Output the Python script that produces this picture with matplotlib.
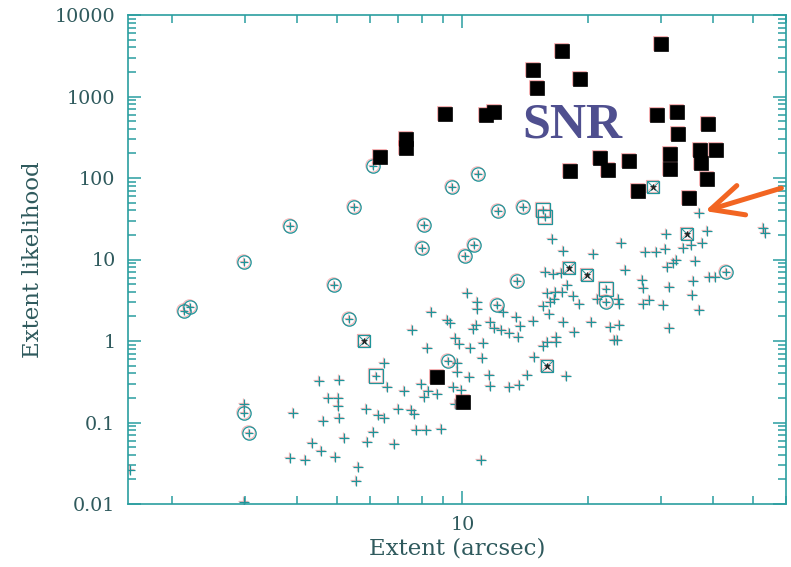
import matplotlib
matplotlib.use("Agg")
import matplotlib.pyplot as plt
from matplotlib import transforms
from matplotlib.ticker import FixedLocator, FixedFormatter, NullFormatter

# Supernova remnants (filled squares)
snr_extent = [17.4, 30.1, 14.8, 15.1, 19.2, 9.10, 11.4, 11.9, 7.33, 7.33,
              6.32, 29.4, 32.9, 39.0, 33.0, 31.6, 31.6, 37.3, 37.5, 40.8,
              38.8, 35.1, 21.4, 22.4, 25.1, 18.1, 26.4, 8.71, 10.06]
snr_like = [3600, 4400, 2110, 1270, 1640, 610, 593, 646, 301, 233,
            181, 593, 646, 460, 347, 197, 129, 221, 153, 221,
            97, 57, 176, 125, 162, 122, 69, 0.362, 0.179]

# Sources marked with a circle
circ_extent = [2.14, 2.21, 2.99, 3.86, 4.90, 5.35, 5.50, 6.08, 2.99, 3.06,
               8.01, 8.10, 9.46, 10.17, 10.69, 10.93, 12.20, 14.02, 13.56, 12.14,
               9.25, 22.19, 43.1]
circ_like = [2.33, 2.61, 9.32, 25.8, 4.87, 1.86, 44.1, 140, 0.131, 0.0743,
             13.84, 26.5, 77.5, 11.04, 15.06, 112, 39.4, 44.1, 5.45, 2.77,
             0.568, 3.01, 7.02]

# Sources marked with a square
sq_extent = [6.21, 15.65, 15.83, 22.19]
sq_like = [0.372, 40.5, 33.2, 4.35]

# Sources marked with a crossed square
sqx_extent = [5.81, 18.08, 19.97, 34.74, 28.78, 16.01]
sqx_like = [1.00, 7.87, 6.45, 20.56, 77.5, 0.494]

# All other detected sources
src_extent = [1.59, 2.98, 2.98, 3.92, 4.53, 5.06, 4.76, 5.03, 5.03, 4.63,
              5.06, 5.20, 4.34, 4.58, 3.86, 4.19, 4.95, 5.62, 5.56, 5.85,
              5.91, 6.11, 6.25, 6.49, 6.83, 6.49, 6.60, 7.02, 7.22, 7.54,
              7.63, 7.75, 8.19, 8.90, 7.58, 8.42, 9.20, 9.36, 8.24, 9.62,
              9.84, 9.73, 9.73, 7.97, 8.28, 8.71, 8.10, 9.51, 9.95, 9.62,
              10.28, 10.86, 10.86, 12.55, 13.48, 10.81, 10.63, 11.68, 11.94, 12.41,
              13.79, 12.97, 13.64, 14.81, 10.45, 11.23, 11.17, 14.90, 16.01, 15.65,
              16.83, 16.83, 10.39, 11.61, 11.68, 12.97, 13.71, 14.33, 17.78, 11.11,
              17.49, 20.42, 18.59, 16.46, 17.49, 20.64, 24.10, 24.64, 15.83, 16.55,
              17.30, 17.88, 16.01, 16.73, 17.40, 18.49, 19.11, 15.65, 16.27, 16.64,
              16.19, 21.11, 23.71, 23.84, 22.69, 23.84, 23.20, 23.59, 37.13, 30.93,
              38.81, 37.75, 35.52, 33.98, 30.76, 29.27, 27.54, 52.91, 53.50, 32.69,
              32.15, 36.32, 31.10, 39.24, 40.56, 35.92, 27.09, 27.24, 31.45, 35.72,
              28.16, 27.24, 30.42, 37.13, 31.45]
src_like = [0.0261, 0.0106, 0.169, 0.131, 0.323, 0.332, 0.200, 0.200, 0.159, 0.104,
            0.114, 0.0645, 0.0561, 0.0447, 0.0367, 0.0347, 0.0377, 0.0284, 0.0192, 0.146,
            0.0576, 0.0764, 0.124, 0.114, 0.0545, 0.537, 0.273, 0.146, 0.243, 0.142,
            0.127, 0.0809, 0.0809, 0.0832, 1.36, 2.27, 1.81, 1.66, 0.821, 1.09,
            0.919, 0.537, 0.416, 0.297, 0.243, 0.224, 0.206, 0.273, 0.251, 0.169,
            3.88, 3.01, 2.47, 2.27, 1.97, 1.57, 1.40, 1.71, 1.44, 1.36,
            1.53, 1.25, 1.12, 1.76, 0.821, 0.945, 0.619, 0.637, 0.972, 0.868,
            1.12, 0.972, 0.362, 0.383, 0.280, 0.273, 0.288, 0.383, 0.372, 0.0347,
            1.71, 1.71, 1.29, 17.84, 12.72, 11.68, 15.94, 7.43, 7.02, 6.64,
            6.83, 4.87, 3.88, 3.99, 3.99, 3.57, 2.84, 2.69, 3.01, 3.28,
            2.14, 3.28, 3.28, 2.84, 1.49, 1.57, 1.03, 1.03, 37.2, 20.56,
            22.37, 15.94, 15.06, 13.84, 13.45, 12.36, 12.36, 24.35, 21.15, 9.86,
            9.06, 9.58, 8.09, 6.10, 6.10, 5.45, 5.61, 4.47, 4.60, 3.67,
            3.18, 2.84, 2.77, 2.40, 1.44]

# Axis ticks
x_major = [10]
x_major_labels = ["10"]
x_minor = [2, 3, 4, 5, 6, 7, 8, 9, 20, 30, 40, 50, 60]
y_major = [0.01, 0.1, 1, 10, 100, 1000, 10000]
y_major_labels = ["0.01", "0.1", "1", "10", "100", "1000", "10000"]
y_minor = [m * 10.0 ** e for e in range(-2, 4) for m in range(2, 10)]

TEAL = "#1f9499"
RED = "#e85a5e"
FRAME = "#2a9ea0"
TEXT = "#2f5a5d"

fig = plt.figure(figsize=(7.91, 5.67), dpi=100)
ax = fig.add_axes([128 / 791, 63 / 567, 658 / 791, 489 / 567])
ax.set_xscale("log")
ax.set_yscale("log")
ax.set_xlim(1.57, 60)
ax.set_ylim(0.01, 10000)

shifted = transforms.offset_copy(ax.transData, fig=fig, x=-1.0, y=0.8, units="dots")


def layered(x, y, marker, size, filled=False, face="black", z=3, lw=0.9):
    """Draw a marker set twice: a faint reddish ghost and the main copy."""
    if filled:
        ax.plot(x, y, ls="none", marker=marker, ms=size, mfc=RED, mec=RED,
                mew=lw, transform=shifted, alpha=0.45, zorder=z)
        ax.plot(x, y, ls="none", marker=marker, ms=size, mfc=face, mec=face,
                mew=lw, zorder=z + 0.5)
    else:
        ax.plot(x, y, ls="none", marker=marker, ms=size, mfc="none", mec=RED,
                mew=lw, transform=shifted, alpha=0.42, zorder=z)
        ax.plot(x, y, ls="none", marker=marker, ms=size, mfc="none", mec=TEAL,
                mew=lw, zorder=z + 0.5)


# plain sources
layered(src_extent, src_like, "+", 6.6, z=2)

# circled sources
layered(circ_extent, circ_like, "o", 9.6, z=3)
layered(circ_extent, circ_like, "+", 6.4, z=3)

# boxed sources
layered(sq_extent, sq_like, "s", 9.6, z=3)
layered(sq_extent, sq_like, "+", 6.4, z=3)

# crossed boxes
layered(sqx_extent, sqx_like, "s", 9.2, z=3)
layered(sqx_extent, sqx_like, "x", 8.6, z=3, lw=0.7)
ax.plot(sqx_extent, sqx_like, ls="none", marker="*", ms=4.5, color="#222222",
        mew=0.5, zorder=4)

# supernova remnants
layered(snr_extent, snr_like, "s", 10.4, filled=True, z=5, lw=0.5)

# frame and ticks
for sp in ax.spines.values():
    sp.set_color(FRAME)
    sp.set_linewidth(1.2)

ax.xaxis.set_major_locator(FixedLocator(x_major))
ax.xaxis.set_major_formatter(FixedFormatter(x_major_labels))
ax.xaxis.set_minor_locator(FixedLocator(x_minor))
ax.xaxis.set_minor_formatter(NullFormatter())
ax.yaxis.set_major_locator(FixedLocator(y_major))
ax.yaxis.set_major_formatter(FixedFormatter(y_major_labels))
ax.yaxis.set_minor_locator(FixedLocator(y_minor))
ax.yaxis.set_minor_formatter(NullFormatter())

ax.tick_params(which="both", direction="in", top=True, right=True,
               color=FRAME, width=1.1, labelcolor=TEXT,
               labelsize=13.8)
ax.tick_params(which="major", length=9.5)
ax.tick_params(which="minor", length=5.8)
ax.tick_params(axis="x", which="major", pad=9)
ax.tick_params(axis="y", which="major", pad=9)
for lab in ax.get_xticklabels() + ax.get_yticklabels():
    lab.set_family("DejaVu Serif")

ax.set_xlabel("Extent (arcsec)", family="DejaVu Serif", fontsize=16.5,
              color=TEXT, labelpad=2)
ax.set_ylabel("Extent likelihood", family="DejaVu Serif", fontsize=16.5,
              color=TEXT, labelpad=8)

ax.text(0.675, 0.775, "SNR", transform=ax.transAxes, ha="center", va="center",
        fontsize=36, fontweight="bold", family="Liberation Serif",
        color="#4f4f8f", zorder=6)

ax.annotate("", xy=(0.877, 0.599), xytext=(0.993, 0.646),
            xycoords="axes fraction", textcoords="axes fraction",
            arrowprops=dict(arrowstyle="->,head_length=2.3,head_width=1.1",
                            lw=3.6, color="#f26522", shrinkA=0, shrinkB=0,
                            capstyle="round", joinstyle="round"),
            annotation_clip=False, zorder=7)

fig.savefig("out.png", dpi=100)
